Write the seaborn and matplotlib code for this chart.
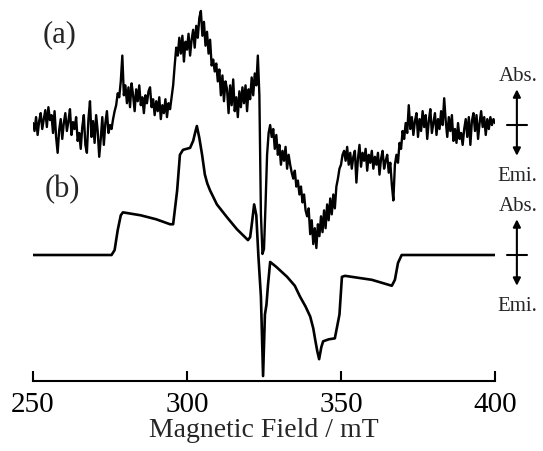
import numpy as np
import pandas as pd
import matplotlib
matplotlib.use('Agg')
import matplotlib.pyplot as plt
import seaborn as sns

# --- data: field axis and the two spectra (arbitrary intensity units) ---
field_start, field_stop, field_step = 250.0, 400.0, 0.5

# (a) measured spectrum, one value every 0.5 mT from 250 to 400 mT
spec_a = [
    2, -6, 8, -10, 4, 12, -4, 6, 15, -2,            # 250
    18, 5, 10, -8, 14, -12, -28, -5, 6, -14,        # 255
    2, 12, -6, 4, 16, -10, 3, -4, 8, -16,           # 260
    -8, -24, -2, 10, -20, -28, 6, 24, -12, 4,       # 265
    -18, 10, -6, -32, -14, 8, -20, 2, 14, -8,       # 270
    0, -4, 6, 14, 20, 32, 28, 44, 70, 30,           # 275
    40, 22, 38, 18, 42, 30, 14, 36, 24, 40,         # 280
    20, 28, 12, 30, 22, 34, 38, 18, 26, 10,         # 285
    24, 14, 28, 6, 20, 12, 26, 8, 22, 16,           # 290
    28, 40, 60, 78, 70, 88, 72, 90, 64, 84,         # 295
    76, 92, 70, 86, 96, 78, 100, 88, 108, 115,      # 300
    90, 104, 80, 94, 72, 86, 60, 66, 54, 62,        # 305
    44, 56, 30, 50, 24, 44, 36, 12, 40, 20,         # 310
    46, 14, 28, 8, 34, 18, 38, 22, 40, 14,          # 315
    36, 26, 48, 30, 52, 40, 70, 30, -90, -130,      # 320
    -125, -80, -30, -8, 0, -12, -4, -24, -10, -30,  # 325
    -20, -40, -26, -36, -22, -44, -30, -40, -48, -54,      # 330
    -46, -62, -56, -70, -62, -78, -70, -86, -92, -84,      # 335
    -110, -96, -120, -104, -124, -100, -112, -92, -108, -86,  # 340
    -104, -80, -96, -74, -90, -70, -84, -62, -54, -44,     # 345
    -40, -30, -26, -36, -22, -40, -28, -44, -32, -26,      # 350
    -58, -34, -20, -42, -28, -36, -24, -46, -30, -38,      # 355
    -26, -44, -32, -40, -28, -50, -34, -26, -44, -36,      # 360
    -30, -48, -38, -60, -76, -40, -30, -38, -18, -24,      # 365
    -6, -14, 2, -8, 20, -4, 8, -10, 4, 12,          # 370
    -12, 6, -6, 14, -2, 10, -14, 4, 16, -8,         # 375
    2, 12, -10, 6, -4, 14, 0, 27, 4, -12,           # 380
    8, -6, 10, -16, -4, -18, 2, -14, -8, -20,       # 385
    -4, 6, -12, 8, -20, 4, 12, -6, 10, -14,         # 390
    2, 14, -2, 8, -10, 6, -4, 8, 0, 6,              # 395
    2,                                              # 400
]

# (b) simulated spectrum, read at its turning points
field_b = [250, 275.5, 276.5, 277.5, 278.5, 279.2, 285, 290, 294.5, 295.5,
           296.8, 297.7, 298.7, 301, 302, 302.7, 303.2, 304, 304.9, 305.8,
           306.6, 307.5, 309.7, 313, 316.2, 319.8, 320.5, 321, 321.8, 322.5,
           323.2, 324, 324.7, 325.3, 325.8, 326.3, 327, 329, 332.5, 335,
           336.7, 338.5, 340, 341, 341.6, 342.3, 342.9, 343.6, 344.2, 346,
           348, 349.5, 350.3, 351.3, 360, 366.5, 367.5, 368.5, 369.7, 400]
spec_b = [0, 0, 5, 25, 40, 43, 40, 36, 31, 31,
          65, 101, 106, 108, 115, 124, 130, 118, 101, 81,
          72, 65, 51, 38, 26, 15, 18, 30, 51, 40,
          -2, -42, -122, -60, -50, -30, -7, -12, -22, -31,
          -42, -52, -62, -74, -85, -97, -105, -93, -87, -85,
          -84, -60, -22, -21, -25, -31, -25, -8, 0, 0]

field_a = np.arange(field_start, field_stop + field_step / 2, field_step)
df_a = pd.DataFrame({'field': field_a, 'signal': spec_a})
df_b = pd.DataFrame({'field': field_b, 'signal': spec_b})

# vertical stacking of the two traces
offset_a, offset_b = 258, 127
df_a['y'] = df_a['signal'] + offset_a
df_b['y'] = df_b['signal'] + offset_b

# --- style ---
sns.set_style('white')
plt.rcParams['font.family'] = ['Liberation Serif', 'DejaVu Serif']

fig = plt.figure(figsize=(5.43, 4.52), dpi=100)
ax = fig.add_axes([33 / 543, 70 / 452, 462 / 543, 377 / 452])

sns.lineplot(data=df_a, x='field', y='y', ax=ax, color='black', linewidth=1.7)
sns.lineplot(data=df_b, x='field', y='y', ax=ax, color='black', linewidth=1.9)

ax.set_xlim(250, 400)
ax.set_ylim(0, 380)
ax.set_xticks([250, 300, 350, 400])
ax.set_yticks([])
ax.set_ylabel('')
ax.set_xlabel('Magnetic Field / mT', fontsize=20, labelpad=0)
for side in ['top', 'left', 'right']:
    ax.spines[side].set_visible(False)
ax.spines['bottom'].set_linewidth(1.5)
ax.spines['bottom'].set_color('black')
ax.tick_params(axis='x', direction='in', length=7, width=1.5, labelsize=21,
               pad=7, colors='black', bottom=True)

# trace labels
ax.text(258.5, 350, '(a)', fontsize=22, ha='center', va='center')
ax.text(259.5, 194, '(b)', fontsize=22, ha='center', va='center')

# Abs./Emi. markers on the right of each trace
x_arrow = 407.1
for off in [offset_a, offset_b]:
    ax.annotate('', xy=(x_arrow, off + 36), xytext=(x_arrow, off - 31),
                arrowprops=dict(arrowstyle='<|-|>', color='black', lw=1.5,
                                mutation_scale=11, shrinkA=0, shrinkB=0),
                annotation_clip=False)
    ax.plot([403.9, 410.4], [off, off], color='black', lw=1.5, clip_on=False)
    ax.text(x_arrow + 0.3, off + 50, 'Abs.', fontsize=15, ha='center', va='center')
    ax.text(x_arrow + 0.3, off - 51, 'Emi.', fontsize=15, ha='center', va='center')

fig.savefig('out.png', dpi=100)
